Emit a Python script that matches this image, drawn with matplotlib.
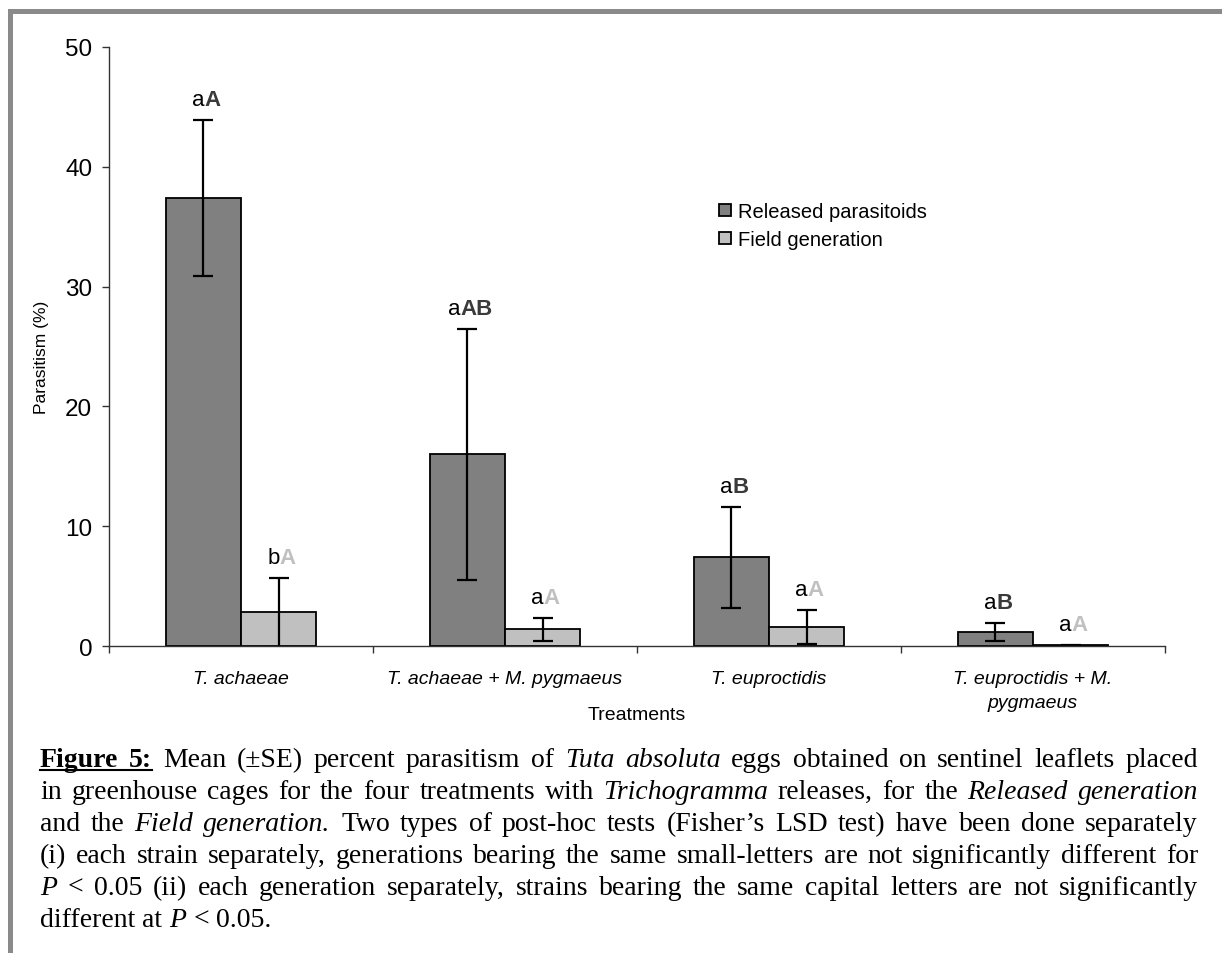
import matplotlib
matplotlib.use("Agg")
import matplotlib.pyplot as plt
import numpy as np
from matplotlib.offsetbox import TextArea, HPacker, AnnotationBbox
from matplotlib.patches import Rectangle
from matplotlib.lines import Line2D

plt.rcParams["font.family"] = ["Liberation Sans", "DejaVu Sans"]

# data
treatments = ["T. achaeae", "T. achaeae + M. pygmaeus", "T. euproctidis",
              "T. euproctidis + M.\npygmaeus"]
released = [37.4, 16.0, 7.4, 1.2]
released_se = [6.5, 10.5, 4.2, 0.75]
field = [2.8, 1.4, 1.6, 0.05]
field_se = [2.9, 0.95, 1.4, 0.05]
released_small = ["a", "a", "a", "a"]
released_caps = ["A", "AB", "B", "B"]
field_small = ["b", "a", "a", "a"]
field_caps = ["A", "A", "A", "A"]
series_names = ["Released parasitoids", "Field generation"]

caption = [
    [("Figure 5:", "bu"), ("Mean (±SE) percent parasitism of", "n"), ("Tuta absoluta", "i"),
     ("eggs obtained on sentinel leaflets placed", "n")],
    [("in greenhouse cages for the four treatments with", "n"), ("Trichogramma", "i"),
     ("releases, for the", "n"), ("Released generation", "i")],
    [("and the", "n"), ("Field generation.", "i"),
     ("Two types of post-hoc tests (Fisher’s LSD test) have been done separately", "n")],
    [("(i) each strain separately, generations bearing the same small-letters are not significantly different for", "n")],
    [("P", "i"), ("< 0.05 (ii) each generation separately, strains bearing the same capital letters are not significantly", "n")],
    [("different at", "n"), ("P", "i"), ("< 0.05.", "n")],
]

W, H = 1222, 954
fig = plt.figure(figsize=(W / 100, H / 100), dpi=100)


def fx(px):
    return px / W


def fy(py):
    return 1 - py / H


# gray frame of the document box
fig.patches.append(Rectangle((fx(8), fy(15)), 1 - fx(8), 5 / H, transform=fig.transFigure,
                             facecolor="#8a8a8a", edgecolor="none"))
fig.patches.append(Rectangle((fx(8), 0), 5 / W, fy(10), transform=fig.transFigure,
                             facecolor="#8a8a8a", edgecolor="none"))

ax = fig.add_axes([fx(109), fy(647), fx(1165) - fx(109), fy(48) - fy(647)])

x = np.arange(len(treatments))
w = 0.2857
ax.bar(x - w / 2, released, w, color="#808080", edgecolor="black", linewidth=1.3,
       label=series_names[0])
ax.bar(x + w / 2, field, w, color="#c0c0c0", edgecolor="black", linewidth=1.3,
       label=series_names[1])
ax.errorbar(x - w / 2, released, yerr=released_se, fmt="none", ecolor="black",
            elinewidth=1.6, capsize=7, capthick=1.6)
ax.errorbar(x + w / 2, field, yerr=field_se, fmt="none", ecolor="black",
            elinewidth=1.6, capsize=7, capthick=1.6)

# significance letters above the error bars
def letters(xpos, top, small, caps, capcolor):
    lo = TextArea(small, textprops=dict(fontsize=16, color="black"))
    hi = TextArea(caps, textprops=dict(fontsize=16, color=capcolor, fontweight="bold"))
    box = HPacker(children=[lo, hi], pad=0, sep=0, align="baseline")
    ab = AnnotationBbox(box, (xpos, top), xybox=(2, 7), boxcoords="offset points",
                        box_alignment=(0.5, 0), frameon=False, pad=0)
    ax.add_artist(ab)


for i in range(len(treatments)):
    letters(x[i] - w / 2, released[i] + released_se[i], released_small[i],
            released_caps[i], "#3a3a3a")
    letters(x[i] + w / 2, field[i] + field_se[i], field_small[i], field_caps[i], "#c0c0c0")

ax.set_xlim(-0.5, 3.5)
ax.set_ylim(0, 50)
ax.set_yticks(range(0, 51, 10))
ax.tick_params(axis="y", direction="out", length=5, width=1, labelsize=17.5, pad=7,
               color="#333333")
ax.set_xticks([-0.5, 0.5, 1.5, 2.5, 3.5])
ax.set_xticklabels([])
ax.tick_params(axis="x", which="major", direction="out", length=5, width=1, color="#333333")
ax.set_xticks(x, minor=True)
ax.set_xticklabels(treatments, minor=True, fontsize=14, style="italic", linespacing=1.6)
ax.tick_params(axis="x", which="minor", length=0, pad=17)
for s in ["top", "right"]:
    ax.spines[s].set_visible(False)
for s in ["left", "bottom"]:
    ax.spines[s].set_color("#333333")
    ax.spines[s].set_linewidth(1)

ax.set_ylabel("Parasitism (%)", fontsize=12.5)
ax.yaxis.set_label_coords(-0.057, 0.484)
ax.set_xlabel("Treatments", fontsize=14)
ax.xaxis.set_label_coords(0.5, -0.100)

ax.legend(loc="upper left", bbox_to_anchor=(fx(719), fy(203)), bbox_transform=fig.transFigure,
          frameon=False, fontsize=14.5, handlelength=0.6, handleheight=0.6,
          handletextpad=0.35, labelspacing=0.45, borderpad=0, borderaxespad=0)

# caption, justified like the source document
left, right = 40, 1198
baselines = [767, 799, 831, 863, 895, 927]
renderer = fig.canvas.get_renderer()
styles = {"n": dict(), "i": dict(style="italic"), "bu": dict(fontweight="bold")}
for li, line in enumerate(caption):
    words = []
    for chunk, st in line:
        for word in chunk.split():
            t = fig.text(0, fy(baselines[li]), word, fontsize=20, va="baseline",
                         family=["Liberation Serif", "DejaVu Serif"], **styles[st])
            words.append((t, st, t.get_window_extent(renderer).width))
    total = sum(wd for _, _, wd in words)
    if li < len(caption) - 1:
        gap = (right - left - total) / (len(words) - 1)
    else:
        gap = 7
    pos = left
    under = []
    for t, st, wd in words:
        t.set_x(fx(pos))
        if st == "bu":
            under.append((pos, pos + wd))
        pos += wd + gap
    if under:
        fig.lines.append(Line2D([fx(under[0][0]), fx(under[-1][1])],
                                [fy(baselines[li] + 4), fy(baselines[li] + 4)],
                                transform=fig.transFigure, color="black", linewidth=1.5))

fig.savefig("out.png", dpi=100)
